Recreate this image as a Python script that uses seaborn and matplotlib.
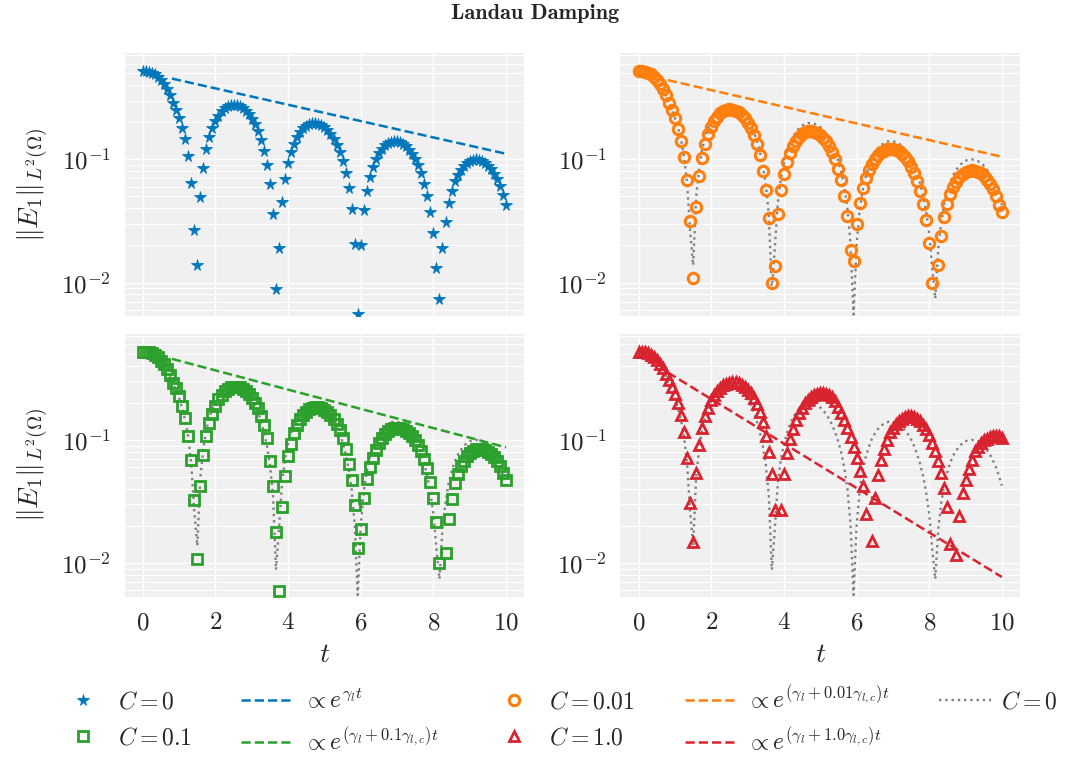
import numpy as np
import matplotlib
matplotlib.use("Agg")
import matplotlib.pyplot as plt
import seaborn as sns
from matplotlib.lines import Line2D

# time samples (dt = 1/12)
t = np.linspace(0, 10, 121)

# ||E_1||, one value per time sample
e_c0 = [
    0.52, 0.52, 0.515, 0.505, 0.49, 0.468, 0.44, 0.408, 0.372, 0.332,
    0.285, 0.251, 0.217, 0.181, 0.145, 0.106, 0.0642, 0.0265, 0.0138, 0.0495,
    0.0855, 0.121, 0.152, 0.181, 0.206, 0.227, 0.245, 0.259, 0.270, 0.276,
    0.278, 0.276, 0.270, 0.261, 0.249, 0.233, 0.214, 0.193, 0.170, 0.143,
    0.117, 0.090, 0.0632, 0.0358, 0.0088, 0.0192, 0.0452, 0.0698, 0.0928, 0.114,
    0.134, 0.152, 0.167, 0.179, 0.188, 0.194, 0.197, 0.197, 0.195, 0.190,
    0.183, 0.173, 0.161, 0.147, 0.131, 0.114, 0.0964, 0.0775, 0.0585, 0.0395,
    0.0205, 0.0055, 0.0200, 0.0385, 0.0558, 0.0720, 0.0866, 0.101, 0.112, 0.122,
    0.130, 0.135, 0.139, 0.141, 0.140, 0.138, 0.134, 0.128, 0.120, 0.111,
    0.101, 0.0893, 0.0768, 0.0636, 0.0505, 0.0375, 0.0250, 0.0130, 0.0074, 0.0190,
    0.0310, 0.0440, 0.0550, 0.0661, 0.0751, 0.0827, 0.0891, 0.0940, 0.0975, 0.0995,
    0.100, 0.0993, 0.0971, 0.0937, 0.0890, 0.0832, 0.0765, 0.0688, 0.0603, 0.0513,
    0.0425]

e_c001 = [
    0.52, 0.52, 0.515, 0.505, 0.49, 0.468, 0.44, 0.408, 0.372, 0.332,
    0.285, 0.25, 0.215, 0.178, 0.142, 0.105, 0.0676, 0.0318, 0.0109, 0.0408,
    0.0729, 0.103, 0.133, 0.160, 0.184, 0.205, 0.222, 0.236, 0.246, 0.252,
    0.255, 0.254, 0.249, 0.241, 0.230, 0.216, 0.199, 0.180, 0.158, 0.134,
    0.108, 0.080, 0.0566, 0.0334, 0.0099, 0.0136, 0.036, 0.0567, 0.0767, 0.0955,
    0.113, 0.128, 0.141, 0.152, 0.160, 0.166, 0.169, 0.170, 0.168, 0.164,
    0.158, 0.150, 0.140, 0.128, 0.115, 0.100, 0.084, 0.0677, 0.0508, 0.0344,
    0.0182, 0.0149, 0.030, 0.044, 0.058, 0.070, 0.082, 0.092, 0.101, 0.108,
    0.114, 0.118, 0.121, 0.122, 0.1215, 0.120, 0.116, 0.111, 0.104, 0.0962,
    0.0872, 0.0772, 0.0664, 0.055, 0.0435, 0.0321, 0.021, 0.0099, 0.0035, 0.0138,
    0.0239, 0.0342, 0.043, 0.052, 0.0595, 0.066, 0.0715, 0.0758, 0.079, 0.0808,
    0.0815, 0.081, 0.0795, 0.0768, 0.0732, 0.0686, 0.0633, 0.0572, 0.0503, 0.0428,
    0.0376]

e_c01 = [
    0.52, 0.52, 0.515, 0.505, 0.49, 0.468, 0.44, 0.41, 0.375, 0.335,
    0.29, 0.262, 0.228, 0.19, 0.150, 0.108, 0.069, 0.0323, 0.0107, 0.0422,
    0.076, 0.108, 0.138, 0.163, 0.190, 0.213, 0.232, 0.248, 0.260, 0.267,
    0.271, 0.271, 0.268, 0.261, 0.250, 0.236, 0.220, 0.201, 0.180, 0.157,
    0.132, 0.104, 0.068, 0.042, 0.0178, 0.0059, 0.0287, 0.051, 0.0736, 0.093,
    0.114, 0.131, 0.147, 0.159, 0.169, 0.177, 0.182, 0.184, 0.184, 0.181,
    0.176, 0.168, 0.159, 0.148, 0.134, 0.120, 0.104, 0.085, 0.064, 0.0473,
    0.0297, 0.0133, 0.019, 0.0337, 0.0485, 0.060, 0.071, 0.0826, 0.0938, 0.103,
    0.111, 0.118, 0.122, 0.125, 0.1255, 0.125, 0.123, 0.119, 0.114, 0.108,
    0.100, 0.0912, 0.0813, 0.0706, 0.0593, 0.0455, 0.0335, 0.0215, 0.0100, 0.0028,
    0.0121, 0.0228, 0.033, 0.0443, 0.0531, 0.061, 0.0679, 0.0735, 0.0781, 0.0814,
    0.0836, 0.0845, 0.0842, 0.0829, 0.0804, 0.0768, 0.0724, 0.0671, 0.061, 0.0543,
    0.047]

e_c1 = [
    0.52, 0.52, 0.515, 0.505, 0.49, 0.47, 0.445, 0.415, 0.38, 0.345,
    0.305, 0.27, 0.235, 0.198, 0.158, 0.116, 0.0718, 0.0307, 0.0149, 0.0538,
    0.0907, 0.125, 0.155, 0.183, 0.21, 0.232, 0.251, 0.266, 0.278, 0.287,
    0.292, 0.295, 0.294, 0.289, 0.281, 0.270, 0.256, 0.239, 0.219, 0.196,
    0.170, 0.141, 0.108, 0.080, 0.053, 0.027, 0.002, 0.027, 0.053, 0.078,
    0.101, 0.122, 0.145, 0.165, 0.183, 0.198, 0.211, 0.222, 0.231, 0.237,
    0.241, 0.241, 0.238, 0.232, 0.222, 0.205, 0.185, 0.165, 0.145, 0.125,
    0.106, 0.088, 0.071, 0.056, 0.042, 0.025, 0.004, 0.0152, 0.034, 0.052,
    0.069, 0.084, 0.100, 0.115, 0.126, 0.135, 0.143, 0.149, 0.153, 0.155,
    0.155, 0.153, 0.149, 0.142, 0.133, 0.122, 0.109, 0.095, 0.081, 0.067,
    0.0537, 0.041, 0.0285, 0.0144, 0.002, 0.0117, 0.0243, 0.0367, 0.0473, 0.058,
    0.0692, 0.081, 0.088, 0.094, 0.099, 0.1025, 0.105, 0.107, 0.108, 0.107,
    0.1045]

# reference exponential rates, end points of the dashed lines
fit_t = [0.8, 10.0]
fit_c0 = [0.453, 0.111]
fit_c001 = [0.44, 0.105]
fit_c01 = [0.455, 0.087]
fit_c1 = [0.353, 0.0077]

blue, orange, green, red, grey = "#0077bb", "#ff7f0e", "#2ca02c", "#d9232e", "#808080"

sns.set_theme(style="darkgrid", rc={
    "axes.facecolor": "#f0f0f0",
    "grid.color": "white",
    "axes.edgecolor": "#f0f0f0",
})
plt.rcParams["font.family"] = ["cmr10", "DejaVu Serif"]
plt.rcParams["mathtext.fontset"] = "cm"
plt.rcParams["axes.formatter.use_mathtext"] = True

fig, axes = plt.subplots(2, 2, figsize=(10.71, 7.6), dpi=100)
fig.subplots_adjust(left=0.1164, right=0.9524, bottom=0.2145, top=0.9302,
                    wspace=0.241, hspace=0.065)

panels = [
    (axes[0, 0], e_c0, "*", blue, 8.5, 0.6, True, fit_c0, False),
    (axes[0, 1], e_c001, "o", orange, 7.5, 2.2, False, fit_c001, True),
    (axes[1, 0], e_c01, "s", green, 7.5, 2.0, False, fit_c01, True),
    (axes[1, 1], e_c1, "^", red, 7.5, 2.0, False, fit_c1, True),
]

for ax, vals, mk, col, ms, mew, filled, fit, ref in panels:
    ax.set_yscale("log")
    if ref:
        sns.lineplot(x=t, y=e_c0, ax=ax, color=grey, linestyle=":",
                     linewidth=1.7, errorbar=None, zorder=2)
    sns.lineplot(x=t, y=vals, ax=ax, color=col, linestyle="", marker=mk,
                 markersize=ms, markerfacecolor=col if filled else "none",
                 markeredgecolor=col, markeredgewidth=mew, errorbar=None, zorder=3)
    sns.lineplot(x=fit_t, y=fit, ax=ax, color=col, linestyle="--",
                 linewidth=1.8, errorbar=None, zorder=4)
    ax.set_xlim(-0.5, 10.5)
    ax.set_ylim(0.0053, 0.73)
    ax.set_xticks([0, 2, 4, 6, 8, 10])
    ax.grid(True, which="major", color="white", linewidth=1.0)
    ax.grid(True, which="minor", axis="y", color="white", linewidth=0.8)
    ax.tick_params(which="both", length=0, labelsize=18)
    ax.tick_params(axis="y", pad=10)
    ax.tick_params(axis="x", pad=11)
    ax.set_xlabel("")
    ax.set_ylabel("")
    for s in ax.spines.values():
        s.set_visible(False)

for ax in axes[0]:
    ax.tick_params(labelbottom=False)
for ax in axes[1]:
    ax.set_xlabel("$t$", fontsize=20, labelpad=5)
for ax in axes[:, 0]:
    ax.set_ylabel(r"$\|E_1\|_{L^2(\Omega)}$", fontsize=20, labelpad=8)

fig.suptitle("Landau Damping", y=0.9816, va="center", fontfamily="cmb10", fontsize=16)

handles = [
    Line2D([], [], linestyle="", marker="*", ms=8.5, color=blue, mec=blue, mew=0.6),
    Line2D([], [], linestyle="", marker="s", ms=7.5, mfc="none", mec=green, mew=2.0),
    Line2D([], [], linestyle="--", color=blue, lw=1.8),
    Line2D([], [], linestyle="--", color=green, lw=1.8),
    Line2D([], [], linestyle="", marker="o", ms=7.5, mfc="none", mec=orange, mew=2.2),
    Line2D([], [], linestyle="", marker="^", ms=7.5, mfc="none", mec=red, mew=2.0),
    Line2D([], [], linestyle="--", color=orange, lw=1.8),
    Line2D([], [], linestyle="--", color=red, lw=1.8),
    Line2D([], [], linestyle=":", color=grey, lw=1.7),
]
labels = [
    "$C = 0$", "$C = 0.1$",
    r"$\propto e^{\gamma_l t}$", r"$\propto e^{(\gamma_l + 0.1\gamma_{l,c})t}$",
    "$C = 0.01$", "$C = 1.0$",
    r"$\propto e^{(\gamma_l + 0.01\gamma_{l,c})t}$", r"$\propto e^{(\gamma_l + 1.0\gamma_{l,c})t}$",
    "$C = 0$",
]
fig.legend(handles, labels, loc="upper center", bbox_to_anchor=(0.52, 0.127),
           ncol=5, frameon=False, fontsize=17, handlelength=2.2,
           columnspacing=2.1, handletextpad=0.4, labelspacing=0.6, numpoints=1)

fig.savefig("out.png", dpi=100)
